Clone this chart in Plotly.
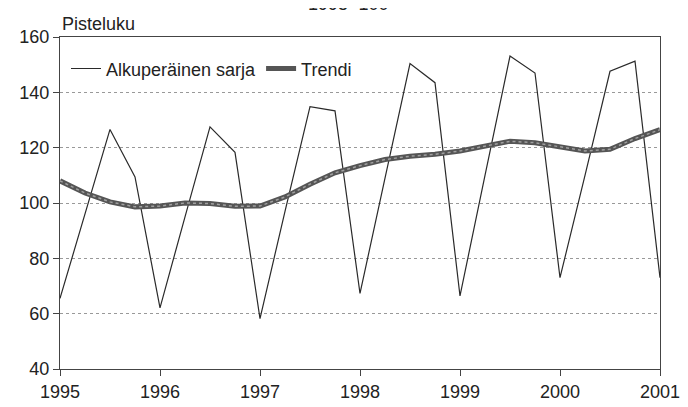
import plotly.graph_objects as go

quarters = [1995 + i * 0.25 for i in range(25)]

alkuperainen = [65.5, 96, 126.6, 109.4,
                62.1, 95, 127.5, 118.3,
                58.2, 97, 134.8, 133.3,
                67.3, 109, 150.4, 143.5,
                66.4, 110, 153.1, 147.0,
                73.0, 110, 147.6, 151.3,
                73.0]

trendi = [108.0, 103.6, 100.4, 98.6,
          98.9, 100.0, 99.8, 98.8,
          98.9, 102.2, 106.8, 110.9,
          113.5, 115.7, 116.9, 117.6,
          118.8, 120.6, 122.3, 121.8,
          120.2, 118.8, 119.4, 123.3,
          126.5]

year_ticks = [1995, 1996, 1997, 1998, 1999, 2000, 2001]
y_ticks = [40, 60, 80, 100, 120, 140, 160]

FONT = "Liberation Sans Narrow, Arial Narrow, Liberation Sans, Arial, sans-serif"

fig = go.Figure()
fig.add_trace(go.Scatter(x=quarters, y=alkuperainen, mode="lines",
                         name="Alkuperäinen sarja",
                         line=dict(color="#2a2a2a", width=1.2)))
fig.add_trace(go.Scatter(x=quarters, y=trendi, mode="lines", name="Trendi",
                         line=dict(color="#555555", width=5)))
fig.add_trace(go.Scatter(x=quarters, y=trendi, mode="lines", showlegend=False,
                         hoverinfo="skip",
                         line=dict(color="#a0a0a0", width=1.5, dash="dot")))

fig.update_layout(
    width=688, height=407,
    margin=dict(l=52, r=36, t=29, b=46),
    paper_bgcolor="white", plot_bgcolor="white",
    font=dict(family=FONT, size=18, color="#222222"),
    showlegend=True,
    legend=dict(orientation="h", x=0.01, y=0.96, xanchor="left", yanchor="top",
                bgcolor="rgba(0,0,0,0)", font=dict(size=18),
                itemwidth=30, tracegroupgap=0),
    xaxis=dict(range=[1995, 2001], tickvals=year_ticks,
               ticktext=[str(v) for v in year_ticks],
               showgrid=False, zeroline=False, automargin=False,
               showline=True, linecolor="#444444", linewidth=1, mirror=True,
               ticks="outside", ticklen=6, tickcolor="#444444"),
    yaxis=dict(range=[40, 160], tickvals=y_ticks, automargin=False,
               showgrid=True, gridcolor="#999999", griddash="dot", gridwidth=1,
               zeroline=False,
               showline=True, linecolor="#444444", linewidth=1, mirror=True,
               ticks="outside", ticklen=6, tickcolor="#444444"),
    annotations=[
        dict(text="Pisteluku", xref="paper", yref="paper", x=0, y=1,
             xanchor="left", yanchor="bottom", yshift=1, showarrow=False,
             font=dict(size=18)),
        dict(text="1995=100", xref="paper", yref="paper", x=0.48, y=1,
             xanchor="center", yanchor="bottom", yshift=21, showarrow=False,
             font=dict(size=18)),
    ],
)

fig.write_html("out.html")
